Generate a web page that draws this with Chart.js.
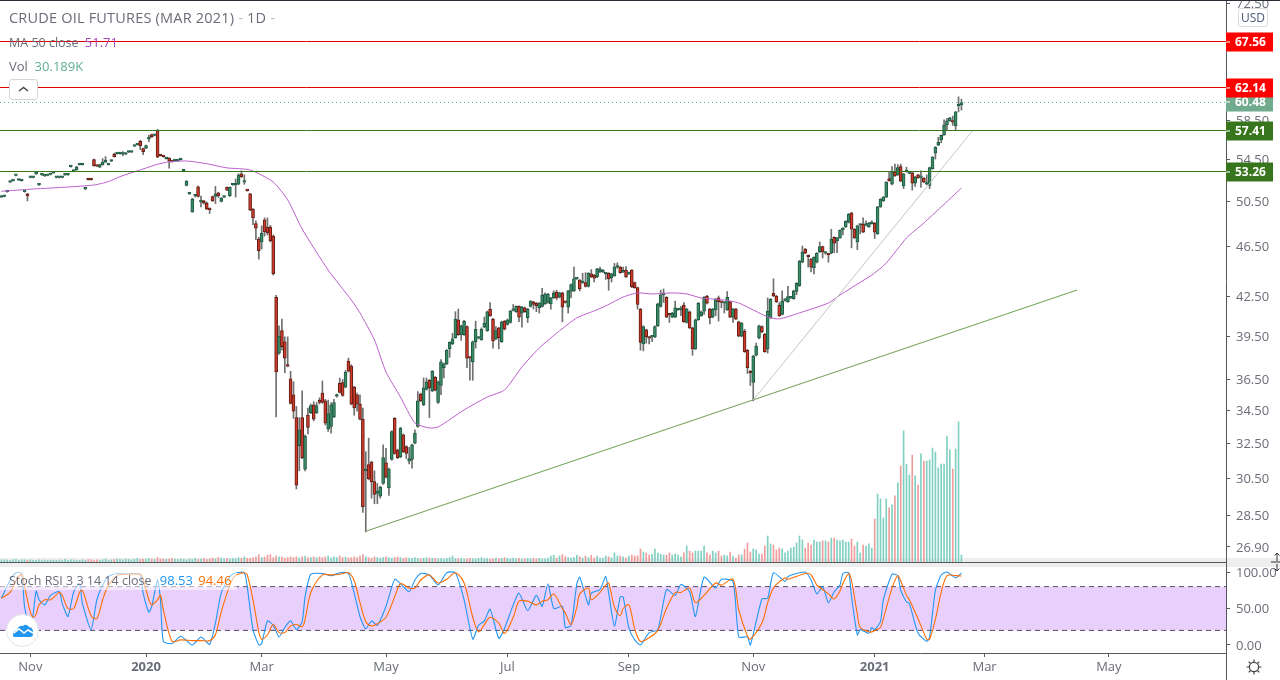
<!DOCTYPE html>
<html>
<head>
<meta charset="utf-8">
<title>Crude Oil Futures</title>
<script src="https://cdn.jsdelivr.net/npm/chart.js@4/dist/chart.umd.min.js"></script>
<style>
    html, body { margin: 0; padding: 0; background: #fff; overflow: hidden; }
    body { width: 1280px; height: 680px; position: relative; font-family: "Open Sans", sans-serif; color: #6a6d78; }
    canvas { position: absolute; left: 0; z-index: 1; }
    #mainChart { top: 0; }
    #stochChart { top: 562px; }
    svg { position: absolute; left: 0; top: 0; }
    .abs { position: absolute; z-index: 2; white-space: pre; }
    .under { position: absolute; z-index: 0; }
    .line { position: absolute; z-index: 3; background: #55585f; }
</style>
</head>
<body>
<div class="under" style="left:0;top:558px;width:1280px;height:9px;background:#eeeeee"></div>
<canvas id="mainChart" width="1280" height="562"></canvas>
<canvas id="stochChart" width="1280" height="118"></canvas>
<div class="line" style="left:0;top:0;width:1280px;height:1px;background:#2a2e39"></div>
<div class="line" style="left:0;top:562px;width:1226px;height:1px"></div>
<div class="line" style="left:1226px;top:653px;width:1px;height:27px"></div>

<div class="abs" style="left:9px;top:8px;font-size:14.5px;letter-spacing:0.2px">CRUDE OIL FUTURES (MAR 2021)<span style="color:#b8bac0"> - </span>1D<span style="color:#b8bac0"> -</span></div>
<div class="abs" style="left:9px;top:33px;font-size:12.5px;line-height:18px">MA 50 close <span style="color:#ab47bc;font-size:13px;margin-left:3px">51.71</span></div>
<div class="abs" style="left:9px;top:57px;font-size:13px">Vol  <span style="color:#5fae92">30.189K</span></div>
<div class="abs" style="left:9px;top:79px;width:27px;height:19px;border:1px solid #d6d6d6;border-radius:3px;background:#fff">
    <svg width="27" height="19"><path d="M9 11 L13.5 7.5 L18 11" fill="none" stroke="#444" stroke-width="1.4"/></svg>
</div>
<div class="abs" style="left:1238px;top:8px;width:28px;height:17px;border:1px solid #dcdcdc;border-radius:3px;background:#fff;font-size:12px;line-height:17px;text-align:center;color:#4a5a7a">USD</div>
<div class="abs" style="left:0;top:571px;padding:0 6px 0 9px;background:rgba(255,255,255,0.55);font-size:12.5px;line-height:19px">Stoch RSI 3 3 14 14 close <span style="color:#2196f3;font-size:13px;margin-left:5px">98.53</span> <span style="color:#ff6d00;font-size:13px;margin-left:2px">94.46</span></div>
<div class="abs" style="left:6px;top:614px;width:31px;height:31px;border:1px solid #e4e4e4;border-radius:50%;background:#fff">
    <svg width="31" height="31"><path d="M6 21 Q6 16 10 15 Q12 10 16 11 Q19 8 22 12 Q27 13 26 19 Q26 22 23 22 L8 22 Q6 22 6 21 Z" fill="#2196f3"/><path d="M7 18 L12 14 L17 18 L21 15 L26 18" fill="none" stroke="#fff" stroke-width="1.5"/></svg>
</div>
<div class="abs" style="left:1245px;top:658px;width:18px;height:18px">
    <svg width="18" height="18"><circle cx="9" cy="9" r="4.6" fill="none" stroke="#444" stroke-width="1.2"/><path d="M9 1.5V4 M9 14V16.5 M1.5 9H4 M14 9H16.5 M3.7 3.7L5.5 5.5 M12.5 12.5L14.3 14.3 M3.7 14.3L5.5 12.5 M12.5 5.5L14.3 3.7" stroke="#444" stroke-width="1.2"/></svg>
</div>
<div class="abs" style="left:1271px;top:550px;width:9px;height:24px">
    <svg width="9" height="24"><path d="M0 12H9 M6 11V3 M3.5 5.5L6 3L8.5 5.5 M6 14V21 M3.5 18.5L6 21L8.5 18.5" fill="none" stroke="#333" stroke-width="1"/></svg>
</div>

<script>
// daily candles, oldest first
var opens = [
    50.9,50.95,51.4,52.3,52.45,52.95,52.5,52.45,51.4,51.2,
    52.75,52.75,53.1,52.05,53.0,52.9,52.95,53.05,53.2,52.75,
    52.75,52.75,53.0,53.0,53.8,53.35,53.5,54.0,54.0,51.65,
    52.6,52.6,54.5,53.9,53.75,54.0,54.25,54.0,54.35,55.05,
    55.1,55.1,55.05,55.05,55.25,55.25,55.85,56.0,56.35,55.6,
    55.65,56.6,57.05,56.95,57.45,54.95,54.85,54.6,54.65,54.35,
    54.4,54.4,54.5,53.4,52.0,51.2,49.55,51.0,51.85,50.45,
    50.55,50.35,49.85,50.95,50.95,51.3,50.5,50.9,51.8,51.0,
    52.05,52.05,52.1,53.1,52.3,51.55,51.2,49.8,48.5,47.15,
    46.9,48.82,48.2,48.2,47.4,42.4,38.3,39.9,39.1,37.5,
    36.55,35.5,34.05,32.35,34.05,31.0,34.2,34.35,34.85,34.35,
    35.15,35.6,35.1,33.35,33.5,34.1,35.4,36.25,36.3,36.0,
    37.75,37.4,36.0,35.5,34.9,33.95,30.9,31.25,31.4,30.3,
    29.65,29.5,30.2,31.35,29.95,31.55,34.0,32.1,31.7,33.0,
    32.3,31.45,31.55,32.5,33.5,35.55,34.85,35.85,36.45,35.75,
    36.65,35.0,36.1,37.3,37.55,38.6,38.95,39.4,40.7,39.6,
    39.6,40.2,38.0,37.7,39.1,39.35,39.25,40.15,39.9,41.5,
    40.75,39.3,40.1,39.1,40.6,40.35,40.5,41.4,41.3,41.7,
    41.2,41.6,40.85,41.7,42.05,41.95,41.6,41.7,41.9,42.0,
    41.9,42.35,42.8,42.4,42.75,42.05,41.65,42.85,42.9,43.85,
    43.75,43.55,43.55,43.25,44.25,44.15,44.0,44.4,44.4,44.25,
    44.3,43.95,44.1,44.8,44.8,44.4,44.55,44.25,44.55,43.55,
    43.15,41.5,38.95,39.95,39.4,39.45,39.45,40.25,41.7,42.6,
    42.4,41.1,40.9,40.9,41.45,41.45,41.8,40.5,41.3,40.1,
    38.6,40.7,41.0,41.35,42.5,41.5,40.9,41.45,42.35,42.05,
    41.95,41.45,42.05,40.9,41.5,40.55,39.5,39.85,38.5,37.05,
    36.3,38.15,39.4,40.2,39.65,38.6,40.85,42.7,42.5,41.8,
    41.1,42.15,42.05,42.35,42.3,42.85,43.3,45.2,46.3,45.75,
    45.45,44.75,45.2,46.05,46.5,45.95,45.85,45.95,47.3,47.0,
    47.25,47.95,48.2,48.6,49.45,48.0,46.9,48.35,48.45,48.35,
    48.2,48.5,48.55,47.6,50.0,50.55,50.9,52.65,52.1,53.3,
    53.0,53.8,51.95,53.3,53.15,53.2,52.2,53.0,52.75,52.7,
    52.1,52.0,53.6,55.15,55.95,56.5,57.0,58.05,58.5,58.5,
    57.95,60.1,60.2
];
var closes = [
    50.95,51.0,51.45,52.35,52.5,53.0,52.5,52.5,51.45,51.0,
    52.8,52.8,53.15,52.1,53.05,52.95,52.95,53.1,53.25,52.8,
    52.8,52.8,53.05,53.05,53.85,53.4,53.75,54.05,54.05,51.7,
    52.55,52.55,53.9,53.85,54.0,54.25,54.45,54.05,54.4,54.8,
    55.15,55.15,55.1,55.1,55.3,55.3,55.9,56.05,55.9,55.3,
    55.9,56.65,56.8,57.0,54.75,54.9,54.8,54.7,54.35,54.3,
    54.45,54.45,54.55,53.45,52.4,51.25,50.7,51.0,50.95,50.5,
    50.35,49.8,49.75,50.55,51.2,51.0,50.8,50.95,51.55,51.8,
    52.1,52.1,53.0,52.8,52.35,51.5,49.7,49.0,48.1,46.14,
    47.67,47.76,47.67,47.0,44.25,37.0,39.5,38.75,37.95,37.4,
    34.95,34.45,30.1,33.3,31.65,32.9,33.45,34.8,33.95,34.8,
    35.0,35.0,33.7,34.3,34.85,35.0,35.5,35.65,35.45,37.0,
    37.05,34.9,34.65,34.9,33.95,28.95,31.0,30.45,30.3,29.6,
    29.8,30.0,31.65,30.55,31.0,33.2,31.9,31.65,33.4,32.0,
    31.9,31.6,32.4,33.1,35.1,35.1,35.95,36.35,35.95,37.05,
    35.8,36.35,37.7,37.55,38.5,39.05,39.3,40.75,39.6,40.25,
    40.6,37.95,37.95,39.1,40.0,39.4,40.0,40.45,41.3,41.0,
    39.15,39.9,39.4,40.55,40.0,40.7,41.35,41.45,41.7,40.9,
    41.65,41.3,41.5,42.1,41.85,41.75,41.95,42.55,42.65,42.65,
    42.35,42.75,42.35,42.75,41.65,42.0,42.9,43.4,43.85,43.9,
    43.05,43.6,43.25,44.3,44.0,43.9,44.65,44.65,44.55,44.3,
    43.85,44.25,44.8,44.85,44.35,44.45,44.0,44.3,43.2,43.15,
    41.85,39.05,40.2,39.45,39.35,39.5,40.2,41.9,42.6,42.65,
    40.9,41.05,41.2,41.6,41.5,41.5,40.55,41.5,40.1,38.6,
    40.7,41.95,41.3,42.4,41.95,40.85,41.5,42.25,42.05,42.0,
    42.0,42.4,40.9,41.5,40.75,39.5,40.45,38.4,37.3,36.95,
    38.1,38.8,40.25,39.8,38.4,41.35,42.25,42.5,42.05,41.0,
    42.1,42.2,42.45,42.4,42.9,43.5,45.3,46.05,45.95,45.65,
    44.8,45.6,45.95,46.5,46.05,46.0,45.8,47.15,46.8,47.25,
    47.9,48.1,48.7,49.35,48.0,47.25,48.3,48.4,47.75,48.4,
    48.55,48.6,47.75,50.0,50.7,50.9,52.3,52.45,53.3,52.9,
    53.7,52.4,53.1,53.35,53.2,52.2,52.8,52.7,52.8,52.3,
    52.15,53.7,54.75,55.75,56.25,56.95,58.05,58.5,58.8,58.35,
    59.45,60.3,60.48
];
var highs = [
    51.0,51.05,51.5,52.4,52.55,53.05,52.55,52.55,51.5,51.25,
    52.85,52.85,53.2,52.15,53.1,53.0,53.0,53.15,53.3,52.85,
    52.85,52.85,53.1,53.1,53.9,53.45,53.85,54.1,54.1,51.75,
    52.65,52.65,54.55,53.95,54.05,54.6,54.8,54.1,54.45,55.15,
    55.2,55.2,55.3,55.15,55.35,55.35,55.95,56.1,56.45,55.65,
    55.95,57.0,57.1,57.05,57.6,55.0,54.9,54.75,54.7,54.4,
    54.5,54.5,54.6,53.5,52.45,51.3,50.8,51.1,51.95,51.0,
    50.6,50.45,49.9,51.0,51.9,51.35,50.85,51.0,51.85,51.85,
    52.15,52.6,53.1,53.4,53.0,51.6,51.25,49.85,48.75,47.3,
    48.3,49.0,49.0,48.35,47.5,42.55,40.25,40.75,39.45,39.45,
    37.05,36.35,34.75,34.05,35.75,33.0,34.65,34.9,35.05,35.0,
    35.3,36.4,35.2,35.15,35.0,35.2,35.55,36.6,36.5,37.1,
    37.95,37.5,36.05,35.6,35.5,34.65,32.0,32.8,31.45,30.9,
    30.2,30.05,32.4,32.2,31.05,33.25,34.05,32.15,33.45,33.05,
    32.35,32.25,32.45,33.3,35.7,35.6,36.6,36.6,36.5,37.1,
    36.7,36.4,37.85,37.6,38.55,39.1,39.7,41.3,41.5,40.3,
    40.65,40.25,38.05,39.15,40.6,39.45,40.1,40.9,41.35,42.0,
    40.8,40.2,40.15,40.6,40.65,40.75,41.4,41.85,41.75,41.75,
    41.7,41.65,41.55,42.15,42.1,42.0,42.0,43.1,42.75,42.7,
    42.4,42.9,42.95,42.8,42.8,42.1,42.95,43.45,44.8,43.95,
    43.8,44.3,44.35,44.35,44.6,44.2,44.7,44.8,44.6,44.35,
    44.35,44.3,45.1,45.15,44.85,44.8,44.85,44.4,44.6,43.6,
    43.2,41.55,40.25,40.0,39.45,39.55,40.25,41.95,42.95,43.05,
    42.45,41.15,41.25,42.1,41.55,41.7,42.0,41.55,41.35,40.15,
    40.75,42.0,41.35,42.45,42.55,41.55,41.55,42.3,42.5,42.1,
    42.05,42.85,42.1,41.55,41.55,40.6,40.5,40.0,38.55,37.1,
    38.15,39.0,40.3,40.25,39.7,42.35,42.3,43.85,42.55,42.0,
    42.9,42.3,43.25,42.45,42.95,43.55,45.35,46.55,46.35,45.8,
    45.5,45.65,46.0,46.9,46.55,46.05,45.9,48.0,47.35,47.3,
    47.95,48.15,48.75,49.4,49.5,48.05,48.35,48.45,49.0,48.75,
    48.6,48.75,48.6,50.05,50.75,50.95,52.35,53.3,53.8,54.05,
    54.0,54.05,53.15,53.75,53.25,53.25,52.85,53.05,53.4,52.75,
    53.0,53.75,54.8,55.8,56.75,57.0,58.6,58.75,58.85,59.0,
    59.5,61.1,60.85
];
var lows = [
    50.85,50.9,51.35,52.25,52.4,52.9,52.45,52.4,51.35,50.55,
    52.7,52.7,53.05,52.0,52.95,52.85,52.9,53.0,53.15,52.7,
    52.7,52.7,52.95,52.95,53.75,53.3,53.45,53.95,53.95,51.6,
    52.5,52.5,53.85,53.8,53.7,53.95,54.2,53.95,54.3,54.75,
    55.05,55.05,54.9,55.0,55.2,55.2,55.8,55.95,55.5,55.0,
    55.6,56.3,56.75,56.9,54.7,54.85,54.75,54.55,53.65,54.25,
    54.35,54.35,54.45,53.35,51.95,51.15,49.5,50.9,50.9,50.0,
    50.25,49.75,49.4,50.5,50.3,50.85,50.45,50.85,51.5,50.95,
    52.0,50.9,52.05,52.75,52.1,51.45,49.65,48.4,47.1,45.46,
    46.3,47.4,47.5,46.9,44.15,34.1,38.2,38.5,36.95,37.35,
    34.9,34.0,29.9,30.9,31.6,30.9,33.05,34.3,33.85,34.3,
    34.9,34.95,33.6,33.2,33.1,34.05,35.35,35.6,35.4,35.95,
    37.0,34.85,34.2,34.45,33.9,28.65,27.65,30.4,29.4,29.1,
    29.1,29.4,30.15,30.5,29.55,31.5,31.85,31.6,31.65,31.95,
    31.6,31.3,31.05,32.45,33.45,35.05,34.8,35.8,34.05,35.7,
    35.75,34.95,35.5,36.6,37.5,38.0,38.9,39.35,39.55,39.2,
    39.55,37.3,36.45,36.45,38.65,39.3,39.2,40.1,39.85,40.95,
    38.65,39.25,38.6,39.05,39.95,40.3,40.45,41.35,41.25,40.55,
    40.15,41.25,40.5,41.65,41.5,41.3,41.2,41.65,41.85,41.95,
    41.5,42.3,42.2,42.35,40.55,41.95,41.2,42.35,42.85,43.8,
    42.9,43.5,43.2,43.2,43.95,43.6,43.95,44.35,44.35,43.8,
    42.95,43.6,44.05,44.7,44.3,44.35,43.95,44.2,43.15,43.1,
    41.5,38.5,38.45,39.0,38.95,39.1,39.4,40.2,41.65,42.0,
    40.85,40.5,40.85,40.85,41.4,41.0,40.5,40.45,40.05,38.15,
    38.55,40.65,40.95,41.1,41.9,40.4,40.85,41.0,40.6,41.6,
    41.2,41.4,40.85,40.5,40.7,39.45,39.45,38.35,36.9,36.1,
    35.1,38.1,39.3,39.75,38.35,38.3,40.8,42.45,42.0,40.95,
    41.05,42.1,42.0,42.3,42.25,42.6,43.25,45.15,45.9,44.8,
    44.4,44.25,45.15,46.0,45.55,45.85,45.2,45.9,46.0,46.0,
    47.2,47.5,48.15,48.55,46.4,47.2,46.25,47.6,47.7,48.3,
    48.15,48.45,47.2,47.55,49.95,50.5,50.85,52.4,52.05,52.85,
    52.95,52.35,51.7,53.25,53.1,51.55,51.9,52.65,51.8,52.25,
    52.05,51.7,53.55,54.55,55.9,56.2,56.95,57.55,58.45,58.0,
    57.5,59.45,59.65
];
// volume in thousands
var volumes = [
    9,9,9,7,9,11,7,9,9,7, 10,7,7,9,7,9,7,9,7,7,
    9,7,11,7,9,9,7,7,9,7, 11,9,7,9,7,9,13,7,9,11,
    13,11,9,13,11,9,13,16,11,13, 13,16,13,11,19,13,13,11,13,16,
    13,11,13,11,9,13,11,16,11,13, 16,11,13,17,13,20,17,14,16,14,
    16,14,19,16,22,16,16,19,22,32, 19,22,30,32,19,26,22,22,16,19,
    22,19,22,17,22,26,19,19,22,19, 22,19,22,26,17,22,19,26,19,22,
    17,19,22,19,26,32,22,19,16,22, 19,16,19,22,19,16,19,22,19,16,
    19,17,16,19,16,13,16,19,17,16, 16,14,16,13,16,19,26,16,14,16,
    13,14,16,14,13,16,19,14,16,13, 14,17,14,16,19,16,14,17,14,16,
    13,14,16,13,16,14,16,13,14,17, 26,29,17,26,32,23,19,17,19,29,
    23,17,26,19,29,17,26,
    17,17,26,22,17,39,26,26,22,17,
    26,30,26,26,56,43,39,30,34,56,
    39,34,30,30,39,30,34,30,22,39,
    69,47,39,47,47,47,69,39,30,47,
    39,47,26,30,26,43,26,17,30,30,
    56,82,43,56,52,34,34,69,112,78,
    73,52,60,56,39,47,60,65,82,112,
    95,60,82,73,95,86,86,91,91,86,
    103,103,95,91,
    95,86,86,99,69,86,39,73,69,78,60,
    185,293,272,190,272,233,246,285,341,414,
    565,422,375,461,371,332,466,435,435,440,
    491,474,405,422,422,543,483,401,487,604,30.189
];

// 50 day average, bar number and price where it was read
var maBars = [0,11,23,32,37,41,48,54,58,64,71,78,86,94,99,104,113,121,124,129,133,138,143,148,151,160,168,174,180,186,193,199,205,209,215,220,225,232,237,242,250,255,265,269,276,286,290,301,306,313,319,325,332];
var maPrices = [51.44,51.65,51.84,52.03,52.35,52.83,53.48,54.04,54.27,54.36,54.09,53.68,53.48,52.32,50.63,48.02,44.56,42.19,41.21,39.23,37.0,35.35,33.72,33.41,33.47,34.53,35.35,35.81,37.34,38.66,39.88,40.84,41.36,41.74,42.42,42.74,42.66,42.74,42.66,42.35,42.19,41.96,40.91,40.76,41.21,41.96,42.58,44.16,45.13,47.24,48.55,49.99,51.75];

// stochastic RSI, bar number, %K and %D where they were read
var stochBars = [
    0,3,5,7,8,10,11,12,13,15,17,20,21,23,25,27,28,31,33,35,
    37,40,43,46,48,49,51,52,54,55,56,59,62,66,69,72,74,76,79,81,
    84,85,87,89,90,92,94,96,98,100,102,104,105,107,111,114,117,120,122,124,
    126,128,130,133,136,138,141,143,145,148,151,154,157,160,163,165,167,169,172,174,
    177,179,182,185,187,189,191,194,195,197,199,200,203,204,207,209,210,212,214,215,
    217,219,221,224,227,230,233,235,238,240,243,247,249,253,255,258,259,263,265,267,
    271,272,278,280,282,284,286,288,290,291,293,294,296,297,300,301,302,304,305,308,
    310,311,313,314,317,320,321,323,325,327,330,332
];
var stochK = [
    64,89,99,98,52,21,43,74,62,55,68,73,57,39,73,84,57,21,62,82,
    94,98,97,98,97,71,45,53,89,62,5,2,12,0,11,1,30,71,94,99,
    99,80,21,0,2,33,27,11,24,33,21,32,66,97,98,95,99,98,71,39,
    22,33,27,53,90,84,73,89,98,96,82,99,99,62,8,27,33,49,9,23,
    55,71,47,68,53,84,50,53,24,27,84,93,55,71,76,94,71,26,66,66,
    23,7,0,17,21,76,68,83,73,39,93,78,90,87,11,11,0,63,64,99,
    87,94,100,89,70,80,58,73,82,98,99,66,14,21,16,24,21,32,62,97,
    95,75,59,57,16,5,11,75,96,100,92,98.53
];
var stochD = [
    64,72,88,97,80,45,38,42,55,62,62,72,68,50,50,72,75,40,36,62,
    82,95,97,97,97,90,62,55,62,68,48,5,7,6,6,6,14,45,82,95,
    99,96,62,18,8,14,28,17,17,26,28,25,35,72,96,96,97,99,88,58,
    32,26,29,38,66,84,78,78,89,96,85,90,99,85,38,18,28,38,30,16,
    38,60,60,55,60,62,70,50,44,28,52,70,78,62,72,82,85,52,40,50,
    55,22,5,10,20,50,72,72,78,58,68,85,82,90,48,12,8,30,58,78,
    92,90,98,96,82,76,70,63,74,84,98,88,42,24,18,18,20,24,36,78,
    95,88,68,62,36,8,8,35,72,95,95,94.46
];

// drawn lines: bar numbers and prices of the two ends
var channelBars = [126, 372];
var channelPrices = [27.68, 42.97];
var slopeBars = [260, 336];
var slopePrices = [35.16, 57.5];

var levelPrices = [67.56, 62.14, 57.41, 53.26];
var levelColors = ["#e50000", "#e50000", "#38761d", "#38761d"];
var tagColors = ["#ff0000", "#ff0000", "#38761d", "#38761d"];
var lastPrice = 60.48;

var priceTicks = [72.5, 58.5, 54.5, 50.5, 46.5, 42.5, 39.5, 36.5, 34.5, 32.5, 30.5, 28.5, 26.9];
var stochTicks = [0, 50, 100];
var tickBars = [10, 50, 90, 133, 175, 217, 260, 302, 340, 383];
var tickLabels = ["Nov", "2020", "Mar", "May", "Jul", "Sep", "Nov", "2021", "Mar", "May"];

// 333 traded bars, the rest is empty space on the right
var barCount = 424;
var barNumbers = [];
for (var n = 0; n < barCount; n++) {
    barNumbers.push(n);
}

var axisFont = { family: "'Open Sans', sans-serif", size: 13 };
var axisColor = "#55585f";
var textColor = "#6a6d78";

function points(bars, values) {
    return bars.map(function (bar, k) {
        return { x: bar, y: values[k] };
    });
}

function isUp(i) {
    return closes[i] >= opens[i];
}

// stop chart.js reserving room for half a tick label at the axis ends
function fixAxisSize(scale) {
    if (scale.isHorizontal()) {
        scale.height = 27;
    } else {
        scale.width = 54;
    }
    scale.paddingTop = 0;
    scale.paddingBottom = 0;
    scale.paddingLeft = 0;
    scale.paddingRight = 0;
}

var bodyData = opens.map(function (o, i) { return [o, closes[i]]; });
var wickData = lows.map(function (l, i) { return [l, highs[i]]; });
var bodyColors = opens.map(function (o, i) { return isUp(i) ? "#3b8a67" : "#cf3a2a"; });
var edgeColors = opens.map(function (o, i) { return isUp(i) ? "#1e5a40" : "#5e1d14"; });
var volumeColors = opens.map(function (o, i) { return isUp(i) ? "#80d0c2" : "#f09c9c"; });

// horizontal levels and the coloured tags on the price axis
var levelsPlugin = {
    id: "levels",
    afterDatasetsDraw: function (chart) {
        var ctx = chart.ctx;
        var y = chart.scales.y;
        var right = chart.chartArea.right;
        ctx.save();
        var lastY = Math.round(y.getPixelForValue(lastPrice)) + 0.5;
        ctx.strokeStyle = "#5fae92";
        ctx.lineWidth = 1;
        ctx.setLineDash([1, 3]);
        ctx.beginPath();
        ctx.moveTo(0, lastY);
        ctx.lineTo(right, lastY);
        ctx.stroke();
        ctx.setLineDash([]);
        levelPrices.forEach(function (price, k) {
            var py = Math.round(y.getPixelForValue(price)) - 0.5;
            ctx.strokeStyle = levelColors[k];
            ctx.beginPath();
            ctx.moveTo(0, py);
            ctx.lineTo(right, py);
            ctx.stroke();
        });
        ctx.restore();
    },
    afterDraw: function (chart) {
        var ctx = chart.ctx;
        var y = chart.scales.y;
        var right = chart.chartArea.right;
        ctx.save();
        function tag(price, color) {
            var py = Math.round(y.getPixelForValue(price));
            ctx.fillStyle = color;
            ctx.fillRect(right, py - 9.5, 47, 19);
            ctx.fillStyle = "#ffffff";
            ctx.fillRect(right, py - 0.5, 4, 1);
            ctx.font = "bold 12px 'Open Sans', sans-serif";
            ctx.textAlign = "left";
            ctx.textBaseline = "middle";
            ctx.fillText(price.toFixed(2), right + 9, py + 0.5);
        }
        tag(lastPrice, "#70ab8e");
        levelPrices.forEach(function (price, k) {
            tag(price, tagColors[k]);
        });
        ctx.restore();
    }
};

// purple band with dashed edges behind the stochastic lines
var bandTop = 80;
var bandBottom = 20;
var bandPlugin = {
    id: "band",
    beforeDatasetsDraw: function (chart) {
        var ctx = chart.ctx;
        var y = chart.scales.y;
        var area = chart.chartArea;
        var top = y.getPixelForValue(bandTop);
        var bottom = y.getPixelForValue(bandBottom);
        ctx.save();
        ctx.fillStyle = "#e9d0fc";
        ctx.fillRect(area.left, top, area.right - area.left, bottom - top);
        ctx.strokeStyle = "#544a66";
        ctx.lineWidth = 1;
        ctx.setLineDash([5, 4]);
        [top, bottom].forEach(function (py) {
            ctx.beginPath();
            ctx.moveTo(area.left, py);
            ctx.lineTo(area.right, py);
            ctx.stroke();
        });
        ctx.restore();
    }
};

var mainChart = new Chart(document.getElementById("mainChart").getContext("2d"), {
    type: "bar",
    data: {
        labels: barNumbers,
        datasets: [
            {
                label: "Vol",
                data: volumes,
                yAxisID: "vol",
                backgroundColor: volumeColors,
                barThickness: 1,
                grouped: false,
                order: 6
            },
            {
                label: "Wick",
                data: wickData,
                yAxisID: "y",
                backgroundColor: "#6f6f6f",
                barThickness: 1,
                grouped: false,
                order: 5
            },
            {
                label: "Body",
                data: bodyData,
                yAxisID: "y",
                backgroundColor: bodyColors,
                borderColor: edgeColors,
                borderWidth: 1,
                borderSkipped: false,
                barThickness: 3,
                minBarLength: 1.6,
                grouped: false,
                order: 4
            },
            {
                type: "line",
                label: "MA 50 close",
                data: points(maBars, maPrices),
                yAxisID: "y",
                borderColor: "#bb5fcb",
                borderWidth: 1,
                pointRadius: 0,
                tension: 0.2,
                order: 3
            },
            {
                type: "line",
                label: "Channel",
                data: points(channelBars, channelPrices),
                yAxisID: "y",
                borderColor: "#7ba862",
                borderWidth: 1.2,
                pointRadius: 0,
                order: 2
            },
            {
                type: "line",
                label: "Slope",
                data: points(slopeBars, slopePrices),
                yAxisID: "y",
                borderColor: "#c4c4c4",
                borderWidth: 1,
                pointRadius: 0,
                order: 1
            }
        ]
    },
    options: {
        responsive: false,
        animation: false,
        devicePixelRatio: 1,
        layout: { autoPadding: false, padding: 0 },
        plugins: { legend: { display: false }, tooltip: { enabled: false } },
        scales: {
            x: { display: false, offset: true },
            vol: { display: false, min: 0, max: 2422 },
            y: {
                type: "logarithmic",
                position: "right",
                min: 26.17,
                max: 72.9,
                afterFit: fixAxisSize,
                afterBuildTicks: function (scale) {
                    scale.ticks = priceTicks.map(function (v) { return { value: v }; });
                },
                border: { color: axisColor },
                grid: { drawOnChartArea: false, tickLength: 4, tickColor: axisColor },
                ticks: {
                    autoSkip: false,
                    padding: 6,
                    labelOffset: 1,
                    color: textColor,
                    font: axisFont,
                    callback: function (value) { return Number(value).toFixed(2); }
                }
            }
        }
    },
    plugins: [levelsPlugin]
});

var stochChart = new Chart(document.getElementById("stochChart").getContext("2d"), {
    type: "line",
    data: {
        labels: barNumbers,
        datasets: [
            {
                label: "%K",
                data: points(stochBars, stochK),
                yAxisID: "y",
                borderColor: "#2196f3",
                borderWidth: 1.1,
                pointRadius: 0,
                tension: 0.2,
                order: 2
            },
            {
                label: "%D",
                data: points(stochBars, stochD),
                yAxisID: "y",
                borderColor: "#ff6d00",
                borderWidth: 1.1,
                pointRadius: 0,
                tension: 0.3,
                order: 1
            }
        ]
    },
    options: {
        responsive: false,
        animation: false,
        devicePixelRatio: 1,
        layout: { autoPadding: false, padding: 0 },
        plugins: { legend: { display: false }, tooltip: { enabled: false } },
        scales: {
            x: {
                offset: true,
                afterFit: fixAxisSize,
                afterBuildTicks: function (scale) {
                    scale.ticks = tickBars.map(function (v) { return { value: v }; });
                },
                border: { color: axisColor },
                grid: { drawOnChartArea: false, offset: false, tickLength: 4, tickColor: axisColor },
                ticks: {
                    autoSkip: false,
                    maxRotation: 0,
                    padding: 2,
                    font: function (c) {
                        var label = tickLabels[tickBars.indexOf(c.tick && c.tick.value)];
                        var isYear = label === "2020" || label === "2021";
                        return { family: axisFont.family, size: 13, weight: isYear ? "bold" : "normal" };
                    },
                    color: textColor,
                    callback: function (value) { return tickLabels[tickBars.indexOf(value)]; }
                }
            },
            y: {
                position: "right",
                min: -10.96,
                max: 113.7,
                afterFit: fixAxisSize,
                afterBuildTicks: function (scale) {
                    scale.ticks = stochTicks.map(function (v) { return { value: v }; });
                },
                border: { color: axisColor },
                grid: { drawOnChartArea: false, tickLength: 4, tickColor: axisColor },
                ticks: {
                    autoSkip: false,
                    padding: 6,
                    labelOffset: 1,
                    color: textColor,
                    font: axisFont,
                    callback: function (value) { return Number(value).toFixed(2); }
                }
            }
        }
    },
    plugins: [bandPlugin]
});
</script>
</body>
</html>
